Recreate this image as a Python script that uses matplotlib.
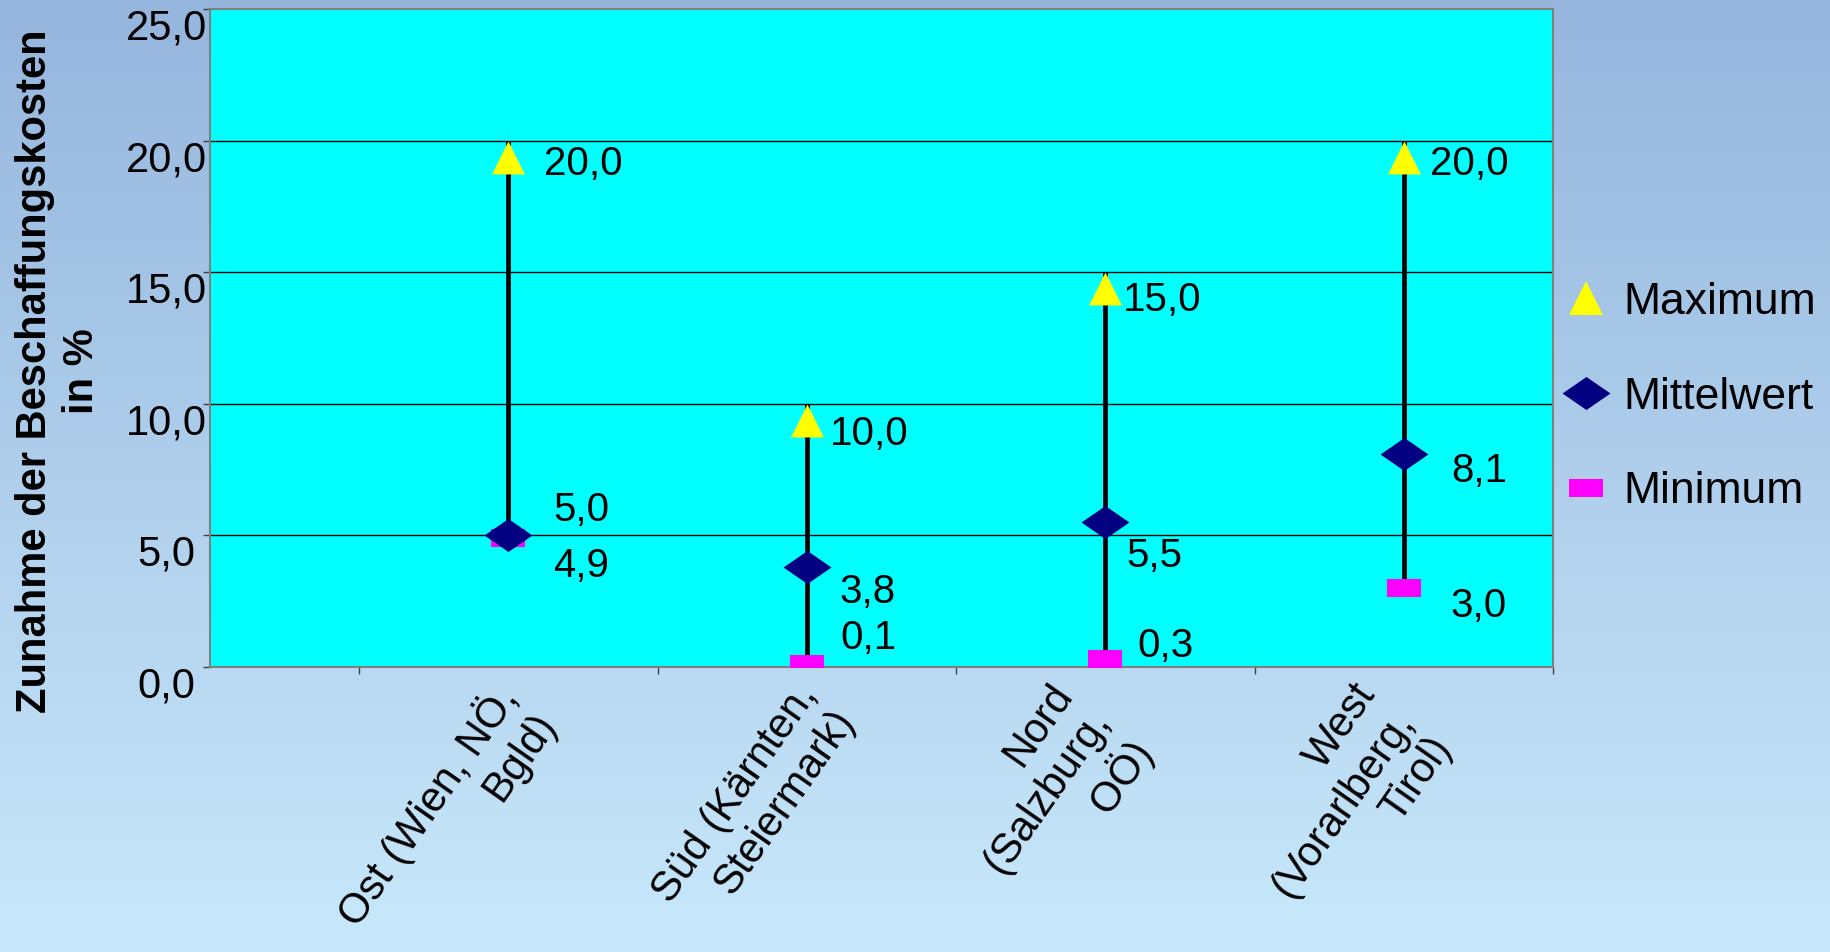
import numpy as np
import matplotlib.pyplot as plt
import matplotlib.transforms as mtransforms
from matplotlib.lines import Line2D
from matplotlib.path import Path

plt.rcParams['font.family'] = ['Liberation Sans', 'DejaVu Sans']

regions = ["Ost (Wien, NÖ,\nBgld)", "Süd (Kärnten,\nSteiermark)",
           "Nord\n(Salzburg,\nOÖ)", "West\n(Vorarlberg,\nTirol)"]
maximum = [20.0, 10.0, 15.0, 20.0]
mittelwert = [5.0, 3.8, 5.5, 8.1]
minimum = [4.9, 0.1, 0.3, 3.0]
y_ticks = [0, 5, 10, 15, 20, 25]

# where each value label sits next to its marker (pixels)
max_off = [(36, -23), (23, -30), (18, -28), (26, -23)]
mean_off = [(45, 25), (33, -25), (21, -34), (47, -17)]
min_off = [(45, -28), (33, 26), (32, 13), (47, -18)]

W, H, DPI = 1831, 952, 100
fig = plt.figure(figsize=(W / DPI, H / DPI), dpi=DPI)

# blue gradient background
bg = fig.add_axes([0, 0, 1, 1], zorder=-10)
top = np.array([0x95, 0xB5, 0xDD]) / 255
bot = np.array([0xC8, 0xE8, 0xFB]) / 255
t = np.linspace(0, 1, 256)[:, None, None]
bg.imshow(top + (bot - top) * t, aspect='auto', extent=[0, 1, 0, 1])
bg.axis('off')

ax = fig.add_axes([210 / W, 1 - 667 / H, (1553 - 210) / W, (667 - 9) / H])
ax.set_facecolor('#00FFFF')
x = np.arange(1, len(regions) + 1)

ax.vlines(x, minimum, maximum, color='black', lw=3.4, zorder=2)

# markers (triangle hangs below its value like in the original)
tri_down = Path([(0, 0), (-0.5, -1), (0.5, -1), (0, 0)],
                [Path.MOVETO, Path.LINETO, Path.LINETO, Path.CLOSEPOLY])
diamond = Path([(-1, 0), (0, 0.69), (1, 0), (0, -0.69), (-1, 0)],
               [Path.MOVETO, Path.LINETO, Path.LINETO, Path.LINETO, Path.CLOSEPOLY])
rect = Path([(-1, -0.55), (1, -0.55), (1, 0.55), (-1, 0.55), (-1, -0.55)],
            [Path.MOVETO, Path.LINETO, Path.LINETO, Path.LINETO, Path.CLOSEPOLY])

ax.plot(x, minimum, ls='none', marker=rect, ms=23.8, color='#FF00FF', mew=0, zorder=3)
ax.plot(x, mittelwert, ls='none', marker=diamond, ms=34.5, color='#000080', mew=0, zorder=4)
ax.plot(x, maximum, ls='none', marker=tri_down, ms=47.5, color='#FFFF00', mew=0, zorder=5)

def fmt(v):
    return f"{v:.1f}".replace('.', ',')

for vals, offs in [(maximum, max_off), (mittelwert, mean_off), (minimum, min_off)]:
    for xi, v, (dx, dy) in zip(x, vals, offs):
        ax.annotate(fmt(v), (xi, v), xytext=(dx, dy), textcoords='offset pixels',
                    ha='left', va='center', fontsize=29, zorder=6)

ax.set_xlim(0, 4.5)
ax.set_ylim(0, 25)
ax.set_yticks(y_ticks)
ax.set_yticklabels([fmt(v) for v in y_ticks], fontsize=30, ha='center')
ax.tick_params(axis='y', length=5, width=1, color='#404040', pad=26.5)
for v in [5, 10, 15, 20]:
    ax.axhline(v, color='black', lw=1, zorder=1)

ax.set_xticks(x)
ax.set_xticklabels(regions, fontsize=30, rotation=55, ha='right', va='top',
                   multialignment='right')
ax.set_xticks(np.arange(0.5, 4.6, 1), minor=True)
ax.tick_params(axis='x', which='major', length=0, pad=7)
ax.tick_params(axis='x', which='minor', length=5, width=1, color='#404040')

for s in ax.spines.values():
    s.set_color('#7f7f7f')
    s.set_linewidth(1.5)

fig.canvas.draw()
shift_y = mtransforms.ScaledTranslation(0, -15 / DPI, fig.dpi_scale_trans)
for lab in ax.get_yticklabels():
    lab.set_transform(lab.get_transform() + shift_y)
shift_x = mtransforms.ScaledTranslation(56 / DPI, 0, fig.dpi_scale_trans)
for lab in ax.get_xticklabels():
    lab.set_transform(lab.get_transform() + shift_x)

fig.text(58.5 / W, 1 - 371 / H, "Zunahme der Beschaffungskosten\nin %", rotation=90,
         ha='center', va='center', multialignment='center', fontsize=30, fontweight='bold')

handles = [
    Line2D([], [], ls='none', marker='^', ms=24, color='#FFFF00', mew=0),
    Line2D([], [], ls='none', marker=diamond, ms=34.5, color='#000080', mew=0),
    Line2D([], [], ls='none', marker=rect, ms=23.8, color='#FF00FF', mew=0),
]
fig.legend(handles, ['Maximum', 'Mittelwert', 'Minimum'], loc='center left',
           bbox_to_anchor=(1564 / W, 1 - 397 / H), frameon=False, fontsize=32,
           handlelength=1.0, handletextpad=0.34, labelspacing=1.21,
           borderpad=0, borderaxespad=0)

fig.savefig('out.png', dpi=DPI)
